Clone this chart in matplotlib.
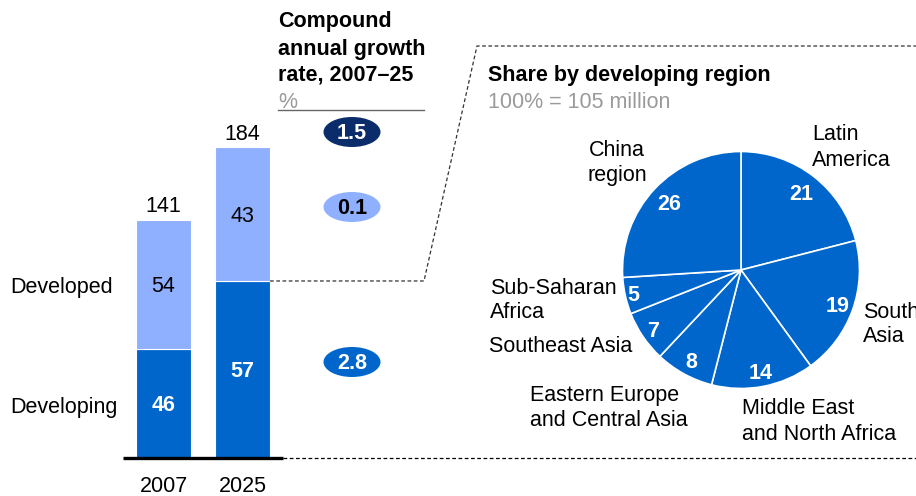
import matplotlib
matplotlib.use("Agg")
import matplotlib.pyplot as plt
from matplotlib.patches import Ellipse
import numpy as np

plt.rcParams['font.family'] = ['Liberation Sans', 'DejaVu Sans']

# ---------------- data ----------------
years = ["2007", "2025"]
totals = [141, 184]                 # million
developing_share = [46, 57]         # %
developed_share = [54, 43]          # %
segment_names = ["Developed", "Developing"]
cagr_labels = ["1.5", "0.1", "2.8"]  # total, developed, developing

regions = ["Latin\nAmerica", "South\nAsia", "Middle East\nand North Africa",
           "Eastern Europe\nand Central Asia", "Southeast Asia",
           "Sub-Saharan\nAfrica", "China\nregion"]
region_share = [21, 19, 14, 8, 7, 5, 26]

BLUE = "#0066CC"
LIGHT = "#8FAFFF"
NAVY = "#0B2C6B"
GREY = "#9A9A9A"
FS = 15.5
DY = 2  # vertical nudge for centered text

W, H = 916, 496
fig = plt.figure(figsize=(W / 100, H / 100), dpi=100)

# overlay axes in pixel coordinates (y downward)
ov = fig.add_axes([0, 0, 1, 1])
ov.set_xlim(0, W)
ov.set_ylim(H, 0)
ov.axis("off")
ov.set_zorder(5)
ov.patch.set_alpha(0)

def px_axes(left, top, width, height):
    return fig.add_axes([left / W, (H - top - height) / H, width / W, height / H])

# ---------------- bars ----------------
axb = px_axes(115, 20, 175, 438)
axb.set_xlim(-0.614, 1.601)
axb.set_ylim(0, 259.5)
axb.axis("off")
x = np.arange(len(years))
dev_vals = [t * s / 100 for t, s in zip(totals, developing_share)]
dvd_vals = [t * s / 100 for t, s in zip(totals, developed_share)]
bw = 0.696
axb.bar(x, dev_vals, width=bw, color=BLUE, edgecolor="white", linewidth=0.8)
axb.bar(x, dvd_vals, bottom=dev_vals, width=bw, color=LIGHT, edgecolor="white", linewidth=0.8)
for i in range(len(years)):
    axb.text(x[i], dev_vals[i] / 2 - 1.2, str(developing_share[i]), ha="center", va="center",
             color="white", fontsize=FS, fontweight="bold")
    axb.text(x[i], dev_vals[i] + dvd_vals[i] / 2 - 1.2, str(developed_share[i]), ha="center",
             va="center", color="black", fontsize=FS)
    axb.text(x[i], totals[i] + 1.5, str(totals[i]), ha="center", va="bottom",
             color="black", fontsize=FS)
    axb.text(x[i], -10.5, years[i], ha="center", va="top", fontsize=FS)

def to_ov(ax, pt):
    dx, dy = ax.transData.transform(pt)
    return dx, H - dy

# baseline
ov.plot([123, 283], [458, 458], color="black", lw=2.4, solid_capstyle="butt")
ov.plot([283, W], [458, 458], color="black", lw=0.9, ls=(0, (3, 2)))

# segment labels
ov.text(10, 286 + DY, segment_names[0], ha="left", va="center", fontsize=FS)
ov.text(10, 405 + DY, segment_names[1], ha="left", va="center", fontsize=FS)

# CAGR header
for yy, t in zip([20, 47, 73], ["Compound", "annual growth", "rate, 2007\u201325"]):
    ov.text(278, yy + DY, t, ha="left", va="center", fontsize=FS, fontweight="bold")
ov.text(278, 100 + DY, "%", ha="left", va="center", fontsize=FS, color=GREY)
ov.plot([278, 424], [110, 110], color="#666666", lw=1.0)

ell_y = [132, 207, 362]
ell_fc = [NAVY, LIGHT, BLUE]
ell_tc = ["white", "black", "white"]
for yy, lab, fc, tc in zip(ell_y, cagr_labels, ell_fc, ell_tc):
    ov.add_patch(Ellipse((352, yy), 57, 30, facecolor=fc, edgecolor="none"))
    ov.text(352, yy + 1.5, lab, ha="center", va="center", fontsize=15.5,
            fontweight="bold", color=tc)

# dashed connector from 2025 bar boundary
bx, by = to_ov(axb, (x[1] + bw / 2, dev_vals[1]))
ov.plot([bx, 424, 477, W], [by, by, 46, 46], color="#333333", lw=0.9, ls=(0, (3, 2)))

# pie header
ov.text(488, 73 + DY, "Share by developing region", ha="left", va="center",
        fontsize=FS, fontweight="bold")
ov.text(488, 100 + DY, "100% = 105 million", ha="left", va="center", fontsize=FS, color=GREY)

# ---------------- pie ----------------
cx, cy, r = 741, 270, 118.5
axp = px_axes(cx - r, cy - r, 2 * r, 2 * r)
wedges, _ = axp.pie(region_share, startangle=90, counterclock=False,
                    colors=[BLUE] * len(region_share),
                    wedgeprops=dict(edgecolor="white", linewidth=1.2))
axp.set_xlim(-1, 1)
axp.set_ylim(-1, 1)
axp.set_aspect("equal")
axp.axis("off")
num_dist = [0.83, 0.87, 0.875, 0.87, 0.9, 0.93, 0.83]
for w, v, d in zip(wedges, region_share, num_dist):
    ang = np.deg2rad((w.theta1 + w.theta2) / 2)
    axp.text(d * np.cos(ang), d * np.sin(ang) - 0.015, str(v), ha="center", va="center",
             color="white", fontsize=FS, fontweight="bold")

# region labels (pixel positions, lines)
label_pos = {
    "Latin\nAmerica": (812, [133, 158], "left"),
    "South\nAsia": (863, [310, 335], "left"),
    "Middle East\nand North Africa": (742, [407, 432], "left"),
    "Eastern Europe\nand Central Asia": (530, [394, 419], "left"),
    "Southeast Asia": (489, [345], "left"),
    "Sub-Saharan\nAfrica": (490, [286, 311], "left"),
    "China\nregion": (617, [148, 174], "center"),
}
for name in regions:
    lx, ys, ha = label_pos[name]
    for line, yy in zip(name.split("\n"), ys):
        ov.text(lx, yy + DY, line, ha=ha, va="center", fontsize=FS)

fig.savefig("out.png", dpi=100)
